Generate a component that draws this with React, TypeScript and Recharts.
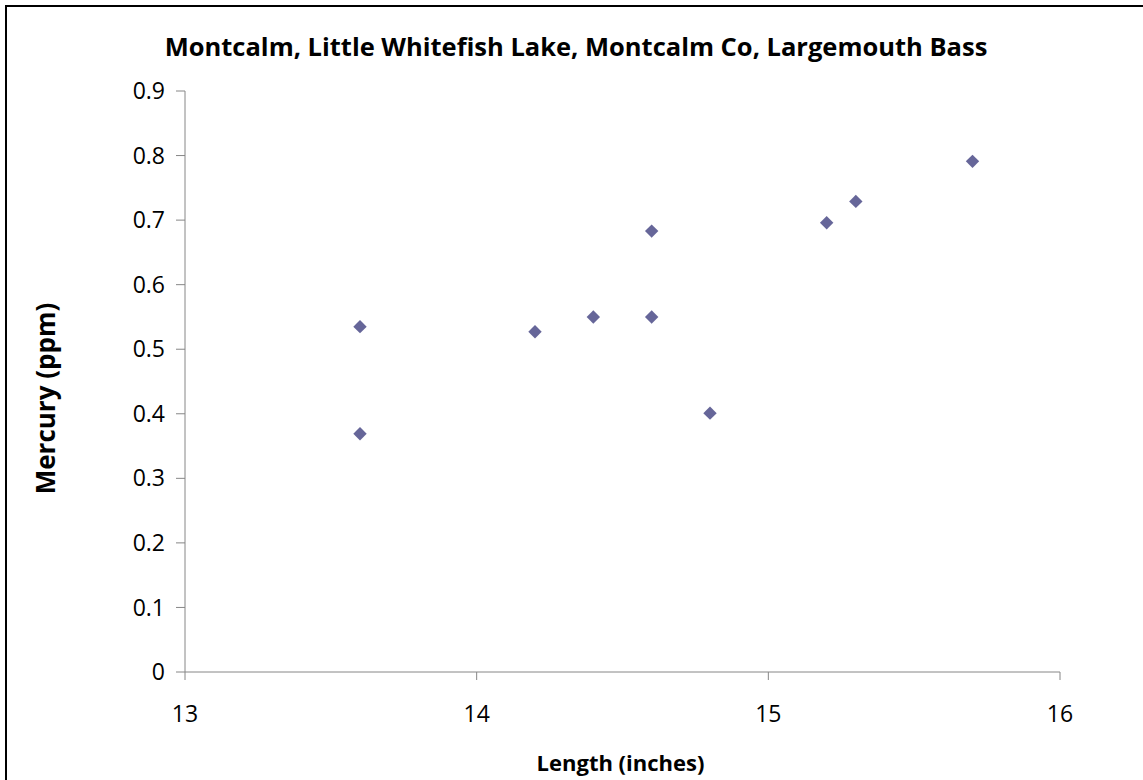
import { Label, Scatter, ScatterChart, XAxis, YAxis } from 'recharts';

// Little Whitefish Lake largemouth bass samples
const lengths = [13.6, 13.6, 14.2, 14.4, 14.6, 14.6, 14.8, 15.2, 15.3, 15.7];
const mercury = [0.535, 0.369, 0.527, 0.55, 0.683, 0.55, 0.401, 0.696, 0.729, 0.791];

const xTicks = [13, 14, 15, 16];
const yTicks = [0, 0.1, 0.2, 0.3, 0.4, 0.5, 0.6, 0.7, 0.8, 0.9];

const title = 'Montcalm, Little Whitefish Lake, Montcalm Co, Largemouth Bass';
const xTitle = 'Length (inches)';
const yTitle = 'Mercury (ppm)';

const points = lengths.map((length, i) => ({ length, mercury: mercury[i] }));

const FONT = '"Open Sans", Lato, sans-serif';
const AXIS = '#868686';
const MARKER = '#666699';

function Diamond(props: any) {
  const { cx, cy } = props;
  if (cx == null || cy == null) return null;
  const r = 6.7;
  return (
    <polygon
      points={`${cx},${cy - r} ${cx + r},${cy} ${cx},${cy + r} ${cx - r},${cy}`}
      fill={MARKER}
    />
  );
}

function XTitle(props: any) {
  const vb = props.viewBox;
  return (
    <text
      x={vb.x + vb.width / 2 - 2}
      y={vb.y + 99}
      textAnchor="middle"
      fontFamily={FONT}
      fontWeight="bold"
      fontSize={22}
      fill="#000"
    >
      {xTitle}
    </text>
  );
}

function YTitle(props: any) {
  const vb = props.viewBox;
  const x = vb.x - 30;
  const y = vb.y + vb.height / 2 + 17;
  return (
    <text
      x={x}
      y={y}
      transform={`rotate(-90, ${x}, ${y})`}
      textAnchor="middle"
      fontFamily={FONT}
      fontWeight="bold"
      fontSize={26}
      fill="#000"
    >
      {yTitle}
    </text>
  );
}

export default function App() {
  return (
    <div
      style={{
        position: 'fixed',
        left: 0,
        top: 0,
        width: 1143,
        height: 780,
        overflow: 'hidden',
        background: '#fff',
      }}
    >
      <div
        style={{
          position: 'absolute',
          left: 5,
          top: 5,
          width: 1200,
          height: 900,
          border: '2px solid #000',
        }}
      />
      <div
        style={{
          position: 'absolute',
          left: 0,
          top: 31,
          width: 1152,
          textAlign: 'center',
          fontFamily: FONT,
          fontWeight: 'bold',
          fontSize: 25.5,
          lineHeight: '30px',
          color: '#000',
        }}
      >
        {title}
      </div>
      <div style={{ position: 'absolute', left: 0, top: 0 }}>
        <ScatterChart
          width={1143}
          height={780}
          margin={{ top: 91, right: 83, bottom: 8, left: 85 }}
        >
          <XAxis
            type="number"
            dataKey="length"
            domain={[13, 16]}
            ticks={xTicks}
            allowDataOverflow
            height={100}
            stroke={AXIS}
            tickSize={8}
            tickMargin={26}
            tick={{ fill: '#000', fontSize: 23, fontFamily: FONT }}
          >
            <Label content={<XTitle />} />
          </XAxis>
          <YAxis
            type="number"
            dataKey="mercury"
            domain={[0, 0.9]}
            ticks={yTicks}
            allowDataOverflow
            width={100}
            stroke={AXIS}
            tickSize={9}
            tickMargin={11}
            tickFormatter={(v) => (v === 0 ? '0' : Number(v).toFixed(1))}
            tick={{ fill: '#000', fontSize: 23, fontFamily: FONT }}
          >
            <Label content={<YTitle />} />
          </YAxis>
          <Scatter data={points} shape={<Diamond />} isAnimationActive={false} />
        </ScatterChart>
      </div>
    </div>
  );
}
